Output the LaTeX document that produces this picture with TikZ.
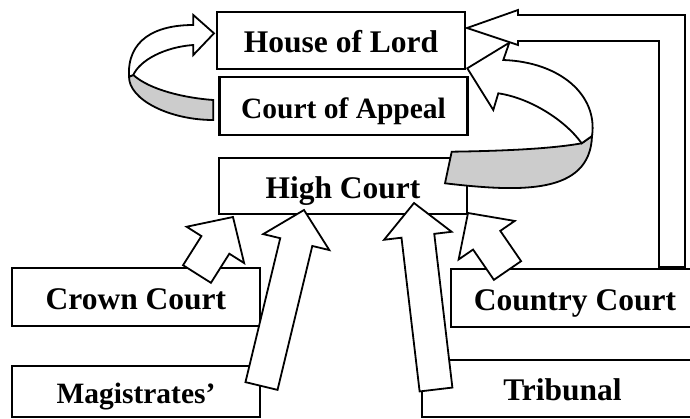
\documentclass[tikz,border=0pt]{standalone}
\usepackage{fontspec}
\setmainfont{Liberation Serif}
\usepackage{tikz}
\usetikzlibrary{calc,positioning}
\definecolor{ribbon}{gray}{0.8}

\begin{document}
\begin{tikzpicture}[x=1pt,y=-1pt,
    court/.style={rectangle,draw,line width=2.2pt,minimum width=248pt,minimum height=57pt,
      inner sep=0pt,outer sep=0pt,text height=24pt,text depth=0pt,
      font=\fontsize{31.5}{36}\selectfont\bfseries},
    smaller/.style={font=\fontsize{29.5}{34}\selectfont\bfseries},
    outline/.style={draw,line width=1.8pt,line join=miter},
    block/.style={outline,fill=white,to path={
      ($(\tikztostart)!16.5pt!90:(\tikztotarget)$) --
      ($(\tikztotarget)!33pt!(\tikztostart)!16.5pt!90:(\tikztotarget)$) --
      ($(\tikztotarget)!33pt!(\tikztostart)!34pt!90:(\tikztotarget)$) --
      (\tikztotarget) --
      ($(\tikztotarget)!33pt!(\tikztostart)!34pt!-90:(\tikztotarget)$) --
      ($(\tikztotarget)!33pt!(\tikztostart)!16.5pt!-90:(\tikztotarget)$) --
      ($(\tikztostart)!16.5pt!-90:(\tikztotarget)$) -- cycle}}]
    \useasboundingbox (0,0) rectangle (690,418);
    \clip (0,0) rectangle (690,418);

    % Courts
    \node[court] (lords) at (341,40.5) {House of Lord};
    \node[court,smaller,minimum height=58pt] (appeal) at (343.5,106) {Court of Appeal};
    \node[court,minimum height=56pt] (high) at (343,186) {High Court};
    \node[court,minimum height=58pt] (crown) at (136,297) {Crown Court};
    \node[court,smaller,minimum height=51pt] (magis) at (136,391.5) {Magistrates’};
    \node[court,minimum height=58pt] (country) at (575,298) {Country Court};
    \node[court,minimum width=281pt] (tribunal) at (562.5,388.5) {Tribunal};

    % Appeal into the High Court
    \coordinate (crowntail) at ($(crown.north east)+(-63,6)$);
    \coordinate (crowntip) at ($(high.south west)+(14,3)$);
    \coordinate (magtail) at ($(magis.north east)+(1.5,20)$);
    \coordinate (magtip) at ($(high.south west)+(85,-4)$);
    \coordinate (tribtail) at ($(tribunal.north west)+(14,29.5)$);
    \coordinate (tribtip) at ($(high.south east)+(-53,-11)$);
    \coordinate (countrytail) at ($(country.north west)+(56.5,1.5)$);
    \coordinate (countrytip) at ($(high.south east)+(1,-1)$);
    \draw[block] (crowntail) to (crowntip);
    \draw[block] (magtail) to (magtip);
    \draw[block] (tribtail) to (tribtip);
    \draw[block] (countrytail) to (countrytip);

    % Court of Appeal up to the House of Lord
    \draw[outline,fill=ribbon] (213.3,100) .. controls (185,98) and (150,90) .. (133.3,75)
      -- (129,76.7) .. controls (129,100) and (170,120) .. (213.3,120) -- cycle;
    \draw[outline,fill=white] (129,76.7) .. controls (127,40) and (155,25) .. (193.3,25)
      -- (193.3,15) -- (214,33.3) -- (193.3,55) -- (193.3,45)
      .. controls (165,47) and (140,60) .. (133.3,75) -- cycle;

    % High Court up to the House of Lord
    \draw[outline,fill=ribbon] (451.7,151.7) .. controls (500,151) and (550,149) .. (581.7,143.3)
      -- (592,136) .. controls (590,195) and (520,192) .. (445,183.3) -- cycle;
    \draw[outline,fill=white] (592,136) .. controls (598,95) and (560,62) .. (503.3,60)
      -- (509.3,42.7) -- (467.3,68.3) -- (493.3,110) -- (498.3,93.3)
      .. controls (530,98) and (565,120) .. (581.7,143.3) -- cycle;

    % Country Court straight to the House of Lord
    \coordinate (elbtail) at ($(country.north east)+(-27,-2)$);
    \coordinate (elbtip) at ($(lords.east)+(2,-12.5)$);
    \coordinate (elbow) at (elbtail |- elbtip);
    \draw[outline,fill=white] ($(elbtail)+(13,0)$) -- ($(elbow)+(13,-13)$)
      -- ($(elbtip)+(51,-13)$) -- ($(elbtip)+(51,-18)$) -- (elbtip)
      -- ($(elbtip)+(51,17)$) -- ($(elbtip)+(51,13)$) -- ($(elbow)+(-13,13)$)
      -- ($(elbtail)+(-13,0)$) -- cycle;
\end{tikzpicture}
\end{document}
